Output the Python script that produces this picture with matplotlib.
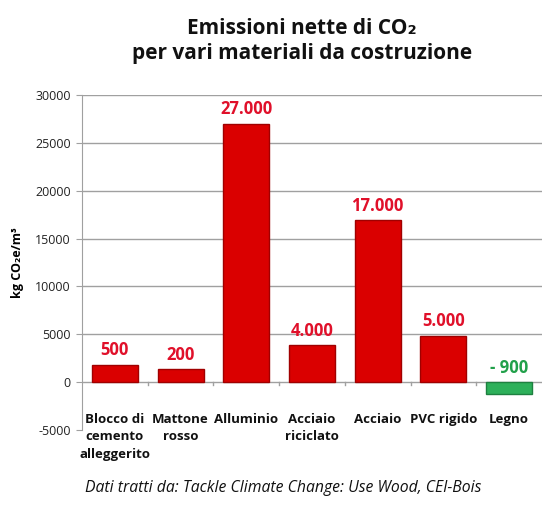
import matplotlib
matplotlib.use("Agg")
import matplotlib.pyplot as plt

categories = ["Blocco di\ncemento\nalleggerito", "Mattone\nrosso", "Alluminio",
              "Acciaio\nriciclato", "Acciaio", "PVC rigido", "Legno"]
bar_heights = [1800, 1340, 27000, 3850, 16900, 4850, -1200]
value_labels = ["500", "200", "27.000", "4.000", "17.000", "5.000", "- 900"]
yticks = [-5000, 0, 5000, 10000, 15000, 20000, 25000, 30000]

RED = "#DA0000"
RED_EDGE = "#A00000"
GREEN = "#2DB05A"
GREEN_EDGE = "#1E8040"
LBL_RED = "#E0102A"
LBL_GREEN = "#21A04A"

FONT = ["Open Sans", "DejaVu Sans"]

fig = plt.figure(figsize=(5.54, 5.13), dpi=100)
ax = fig.add_axes([82/554, 1-430/513, (542-82)/554, (430-95)/513])

x = list(range(len(categories)))
colors = [GREEN if v < 0 else RED for v in bar_heights]
edges = [GREEN_EDGE if v < 0 else RED_EDGE for v in bar_heights]
ax.bar(x, bar_heights, width=0.70, color=colors, edgecolor=edges, linewidth=1.0, zorder=3)

for xi, h, lab in zip(x, bar_heights, value_labels):
    base = max(h, 0)
    ax.annotate(lab, (xi, base), xytext=(0, 4), textcoords="offset points",
                ha="center", va="bottom", fontsize=12, fontweight="bold",
                color=LBL_GREEN if h < 0 else LBL_RED, family=FONT, zorder=4)

ax.set_xlim(-0.5, len(categories) - 0.5)
ax.set_ylim(-5000, 30000)
ax.set_yticks(yticks)
ax.set_yticklabels([str(t) for t in yticks], fontsize=9, color="#222222", family=FONT)
for t in yticks:
    if t > -5000:
        ax.axhline(t, color="#a0a0a0", lw=1.0, zorder=1)

ax.set_xticks([])
for s in ["top", "right", "bottom"]:
    ax.spines[s].set_visible(False)
ax.spines["left"].set_color("#a0a0a0")
ax.tick_params(axis="y", length=4, color="#a0a0a0", pad=4)

# small separators on the zero line
for b in range(1, len(categories)):
    ax.plot([b - 0.5, b - 0.5], [0, -350], color="#a0a0a0", lw=1.0, zorder=2, clip_on=False)

for xi, c in zip(x, categories):
    ax.annotate(c, (xi, 0), xytext=(0, -22), textcoords="offset points",
                ha="center", va="top", fontsize=9.5, fontweight="bold",
                family=FONT, color="#111111", linespacing=1.45)

ax.set_ylabel("kg CO\u2082e/m\u00b3", fontsize=9, fontweight="bold", family=FONT, labelpad=8)

fig.text(0.545, 0.945, "Emissioni nette di CO\u2082", ha="center", va="center",
         fontsize=15, fontweight="bold", family=FONT, color="#111111")
fig.text(0.545, 0.895, "per vari materiali da costruzione", ha="center", va="center",
         fontsize=15, fontweight="bold", family=FONT, color="#111111")

fig.text(0.512, 0.048, "Dati tratti da: Tackle Climate Change: Use Wood, CEI-Bois",
         ha="center", va="center", fontsize=11.3, style="italic", family=FONT, color="#111111")

fig.savefig("out.png", dpi=100)
